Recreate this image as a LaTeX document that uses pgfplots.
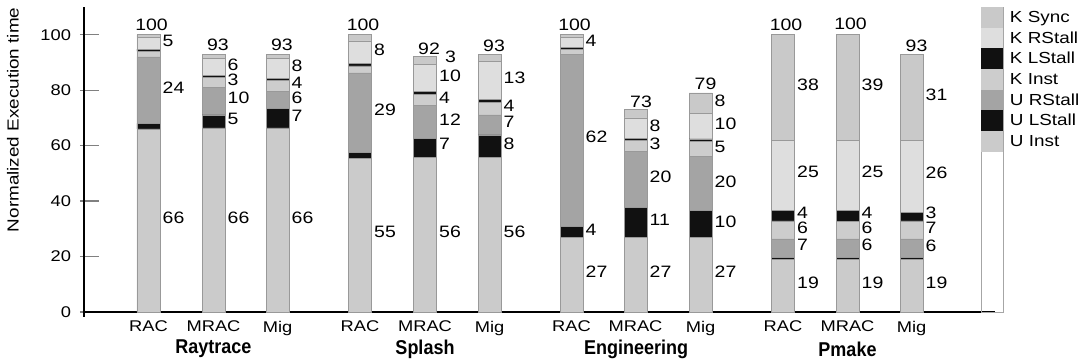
\documentclass[border=0pt]{standalone}
\usepackage{pgfplots}
\usepackage{pgfplotstable}
\pgfplotsset{compat=1.18}
\usepackage{fontspec}
\setmainfont{Liberation Sans}[FakeStretch=1.18]
\newfontfamily\grpfont{Liberation Sans}[FakeStretch=0.9]
\definecolor{uinst}{HTML}{CBCBCB}
\definecolor{ulstall}{HTML}{111111}
\definecolor{urstall}{HTML}{A4A4A4}
\definecolor{kinst}{HTML}{CDCDCD}
\definecolor{klstall}{HTML}{111111}
\definecolor{krstall}{HTML}{DEDEDE}
\definecolor{ksync}{HTML}{C9C9C9}
\pgfplotstableread{
x     uinst ulstall urstall kinst klstall krstall ksync
148.5 66    2       24      2     0.8     4.2     1
213.5 66.4  4.7     10      3.4   0.8     6.2     1.5
277.5 66.4  7.1     6       4     0.8     7.2     1.5
360   55.5  2       28.7    2.6   0.8     8.2     2.2
425   55.8  6.8     11.8    4.1   1.2     9.5     3
489.5 55.8  8.1     7.2     4.4   1.2     13.7    2.6
571.5 27    4       62      1.6   0.8     3.6     1
635.5 27    10.8    20.2    3.8   0.8     7.4     3
700.5 27    9.6     19.6    5.4   0.8     9.2     7.4
783   19    0.8     6.6     6.5   3.7     25.2    38.2
847.5 19    0.8     6.6     6.4   3.9     25.1    38.2
911.5 19    0.8     6.6     6.5   3.1     25.8    31.2
}\data
\tikzset{
  lb/.style={font=\fontsize{16.5bp}{18bp}\selectfont, inner sep=0pt},
  lw/.style={lb, anchor=west},
  grp/.style={font=\grpfont\bfseries\fontsize{20bp}{22bp}\selectfont, yshift=-37bp},
}
\begin{document}
\begin{tikzpicture}
\begin{axis}[
  scale only axis, width=911bp, height=305bp,
  xmin=84, xmax=995, ymin=0, ymax=110,
  axis x line=bottom, axis y line=left,
  axis line style={-, line width=1.4bp},
  ybar stacked, bar width=23,
  ytick={0,20,40,60,80,100},
  xtick={148.5,213.5,277.5,360,425,489.5,571.5,635.5,700.5,783,847.5,911.5},
  xticklabels={RAC,MRAC,Mig,RAC,MRAC,Mig,RAC,MRAC,Mig,RAC,MRAC,Mig},
  xtick style={draw=none},
  xticklabel style={yshift=4bp},
  tick align=center, major tick length=19bp,
  ytick style={line width=1.2bp, xshift=5.5bp},
  /pgf/number format/assume math mode=true,
  tick label style={font=\fontsize{15.5bp}{18bp}\selectfont},
  ylabel={Normalized Execution time},
  ylabel style={at={(axis description cs:-0.078,0.63)}, anchor=center, font=\fontsize{16bp}{19bp}\selectfont},
  clip=false,
  reverse legend,
  legend cell align=left,
  legend image code/.code={\path[#1,draw=none] (0bp,-10.35bp) rectangle (22bp,10.35bp);},
  legend style={at={(axis description cs:0.9846,1)}, anchor=north west, draw=none, fill=none,
    inner sep=0pt, outer sep=0pt, row sep=0pt, column sep=7bp,
    font=\fontsize{16bp}{18bp}\selectfont, nodes={inner sep=0pt}},
  every axis plot/.append style={draw=black!40, line width=0.5bp},
]
\addplot[fill=uinst]   table[x=x,y=uinst]{\data};
\addplot[fill=ulstall] table[x=x,y=ulstall]{\data};
\addplot[fill=urstall] table[x=x,y=urstall]{\data};
\addplot[fill=kinst]   table[x=x,y=kinst]{\data};
\addplot[fill=klstall] table[x=x,y=klstall]{\data};
\addplot[fill=krstall] table[x=x,y=krstall]{\data};
\addplot[fill=ksync]   table[x=x,y=ksync]{\data};
\legend{U Inst,U LStall,U RStall,K Inst,K LStall,K RStall,K Sync}
% Raytrace
\node[lb] at (axis cs:151.5,103.4) {100};
\node[lw] at (axis cs:162.5,97.6) {5};
\node[lw] at (axis cs:162.5,80.8) {24};
\node[lw] at (axis cs:162.5,33.9) {66};
\node[lb] at (axis cs:218,96.4) {93};
\node[lw] at (axis cs:227.5,89.2) {6};
\node[lw] at (axis cs:227.5,83.8) {3};
\node[lw] at (axis cs:227.5,77.1) {10};
\node[lw] at (axis cs:227.5,69.7) {5};
\node[lw] at (axis cs:227.5,33.9) {66};
\node[lb] at (axis cs:282,96.4) {93};
\node[lw] at (axis cs:291.5,88.8) {8};
\node[lw] at (axis cs:291.5,82.6) {4};
\node[lw] at (axis cs:291.5,77.2) {6};
\node[lw] at (axis cs:291.5,70.9) {7};
\node[lw] at (axis cs:291.5,33.9) {66};
% Splash
\node[lb] at (axis cs:363,103.4) {100};
\node[lw] at (axis cs:374,94.6) {8};
\node[lw] at (axis cs:374,72.9) {29};
\node[lw] at (axis cs:374,29) {55};
\node[lb] at (axis cs:429,94.8) {92};
\node[lw] at (axis cs:445,92.2) {3};
\node[lw] at (axis cs:439,85.2) {10};
\node[lw] at (axis cs:439,77.1) {4};
\node[lw] at (axis cs:439,69.3) {12};
\node[lw] at (axis cs:439,60.6) {7};
\node[lw] at (axis cs:439,29) {56};
\node[lb] at (axis cs:494,96.1) {93};
\node[lw] at (axis cs:503.5,84.4) {13};
\node[lw] at (axis cs:503.5,74.4) {4};
\node[lw] at (axis cs:503.5,68.7) {7};
\node[lw] at (axis cs:503.5,60.6) {8};
\node[lw] at (axis cs:503.5,29) {56};
% Engineering
\node[lb] at (axis cs:574.5,103.4) {100};
\node[lw] at (axis cs:585.5,97.9) {4};
\node[lw] at (axis cs:585.5,63) {62};
\node[lw] at (axis cs:585.5,29.8) {4};
\node[lw] at (axis cs:585.5,14.5) {27};
\node[lb] at (axis cs:641,75.9) {73};
\node[lw] at (axis cs:649.5,67.1) {8};
\node[lw] at (axis cs:649.5,60.6) {3};
\node[lw] at (axis cs:649.5,48.6) {20};
\node[lw] at (axis cs:649.5,33.2) {11};
\node[lw] at (axis cs:649.5,14.5) {27};
\node[lb] at (axis cs:705.5,82.3) {79};
\node[lw] at (axis cs:714.5,76.2) {8};
\node[lw] at (axis cs:714.5,67.9) {10};
\node[lw] at (axis cs:714.5,59.5) {5};
\node[lw] at (axis cs:714.5,47) {20};
\node[lw] at (axis cs:714.5,32.6) {10};
\node[lw] at (axis cs:714.5,14.5) {27};
% Pmake
\node[lb] at (axis cs:786,103.4) {100};
\node[lw] at (axis cs:797,81.9) {38};
\node[lw] at (axis cs:797,50.4) {25};
\node[lw] at (axis cs:797,35.9) {4};
\node[lw] at (axis cs:797,30.4) {6};
\node[lw] at (axis cs:797,24.2) {7};
\node[lw] at (axis cs:797,10.6) {19};
\node[lb] at (axis cs:850.5,104) {100};
\node[lw] at (axis cs:861.5,81.9) {39};
\node[lw] at (axis cs:861.5,50.4) {25};
\node[lw] at (axis cs:861.5,35.9) {4};
\node[lw] at (axis cs:861.5,30.4) {6};
\node[lw] at (axis cs:861.5,24.2) {6};
\node[lw] at (axis cs:861.5,10.6) {19};
\node[lb] at (axis cs:916.5,96.1) {93};
\node[lw] at (axis cs:925.5,78.3) {31};
\node[lw] at (axis cs:925.5,50.2) {26};
\node[lw] at (axis cs:925.5,35.9) {3};
\node[lw] at (axis cs:925.5,30.4) {7};
\node[lw] at (axis cs:925.5,24) {6};
\node[lw] at (axis cs:925.5,10.6) {19};
% group labels
\node[grp] at (axis cs:213.5,0) {Raytrace};
\node[grp] at (axis cs:425,0) {Splash};
\node[grp] at (axis cs:636,0) {Engineering};
\node[grp] at (axis cs:847.5,0) {Pmake};
% legend frame and y-axis stub below zero
\draw[black!35, line width=0.6bp] (axis cs:981,0) rectangle (axis cs:1003,110);
\draw[line width=1.4bp] (axis cs:84,0) -- ([yshift=-5bp]axis cs:84,0);
\end{axis}
\pgfresetboundingbox
\path (current axis.south west) ++(-84bp,-50bp) rectangle ++(1082bp,362bp);
\end{tikzpicture}
\end{document}
